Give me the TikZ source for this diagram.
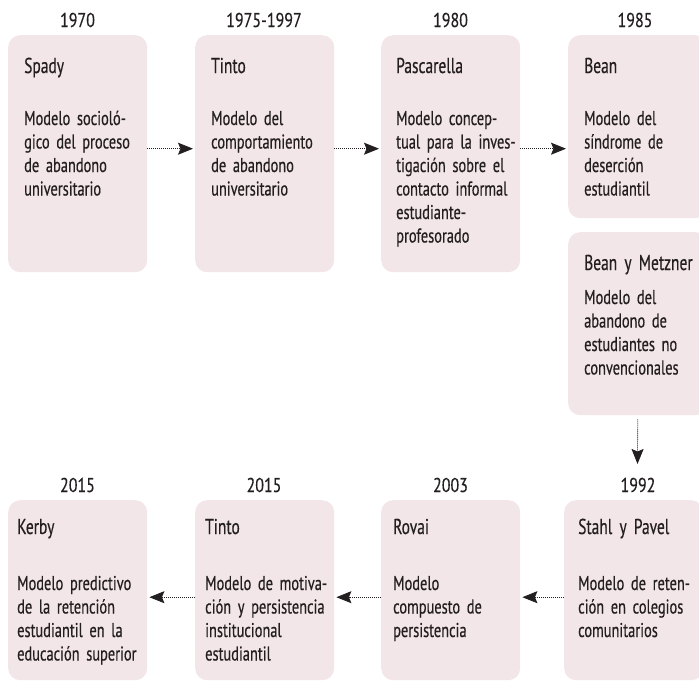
\documentclass[tikz,border=0pt]{standalone}
\usepackage{fontspec}
\setmainfont[FakeStretch=0.72,FakeBold=0.4]{PT Sans}
\newfontfamily\yearfont[FakeStretch=0.8,FakeBold=0.4]{PT Sans}
\usetikzlibrary{arrows.meta,positioning}
\definecolor{boxpink}{RGB}{242,230,232}
\definecolor{ink}{RGB}{35,31,32}
\begin{document}
\begin{tikzpicture}[x=1pt,y=-1pt,
  card/.style={draw=none,fill=boxpink,rounded corners=12pt,minimum width=139pt,inner sep=0pt,anchor=north west},
  txt/.style={inner sep=0pt,anchor=base west,align=left,text width=150pt,text=ink,font=\fontsize{20}{23.5}\selectfont},
  ttl/.style={txt,font=\fontsize{21.5}{24}\selectfont},
  yr/.style={inner sep=0pt,anchor=base,text=ink,font=\yearfont\fontsize{20}{24}\selectfont},
  link/.style={draw=ink,line width=0.8pt,dash pattern=on 1pt off 1pt,-{Stealth[length=15pt,width=12pt,inset=2.5pt]}}]
\clip (0,0) rectangle (699,681);
\fill[white] (0,0) rectangle (699,681);
% top row boxes
\node[card,minimum height=237pt] (spady) at (8,35) {};
\node[card,minimum height=237pt] (tinto) at (195,35) {};
\node[card,minimum height=237pt] (pasc) at (381,35) {};
\node[card,minimum height=183pt] (bean) at (568,35) {};
\node[card,minimum height=183pt] (bym) at (568,232) {};
% bottom row boxes
\node[card,minimum height=180pt] (kerby) at (8,500) {};
\node[card,minimum height=180pt] (tintob) at (195,500) {};
\node[card,minimum height=180pt] (rovai) at (381,500) {};
\node[card,minimum height=180pt] (stahl) at (564,500) {};
% years
\node[yr] (y1) at (77.5,27) {1970};
\node[yr] (y2) at (264,27) {1975-1997};
\node[yr] (y3) at (450.5,27) {1980};
\node[yr] (y4) at (635,27) {1985};
\node[yr] (y5) at (77.5,492) {2015};
\node[yr] (y6) at (264,492) {2015};
\node[yr] (y7) at (450.5,492) {2003};
\node[yr] (y8) at (638,492) {1992};
% titles
\node[ttl] (t1) at (24,73) {Spady};
\node[ttl] (t2) at (211,73) {Tinto};
\node[ttl] (t3) at (396,73) {Pascarella};
\node[ttl] (t4) at (584,73) {Bean};
\node[ttl] (t5) at (584,270) {Bean y Metzner};
\node[ttl] (t6) at (17,534) {Kerby};
\node[ttl] (t7) at (205,534) {Tinto};
\node[ttl] (t8) at (393,534) {Rovai};
\node[ttl] (t9) at (578,534) {Stahl y Pavel};
% descriptions
\node[txt] (d1) at (24,125) {Modelo socioló-\\gico del proceso\\de abandono\\universitario};
\node[txt] (d2) at (211,125) {Modelo del\\comportamiento\\de abandono\\universitario};
\node[txt] (d3) at (396,125) {Modelo concep-\\tual para la inves-\\tigación sobre el\\contacto informal\\estudiante-\\profesorado};
\node[txt] (d4) at (584,125) {Modelo del\\síndrome de\\deserción\\estudiantil};
\node[txt] (d5) at (584,304) {Modelo del\\abandono de\\estudiantes no\\convencionales};
\node[txt] (d6) at (17,590) {Modelo predictivo\\de la retención\\estudiantil en la\\educación superior};
\node[txt] (d7) at (205,590) {Modelo de motiva-\\ción y persistencia\\institucional\\estudiantil};
\node[txt] (d8) at (393,590) {Modelo\\compuesto de\\persistencia};
\node[txt] (d9) at (578,590) {Modelo de reten-\\ción en colegios\\comunitarios};
% connectors
\draw[link,shorten >=2pt] ([yshift=5pt]spady.east) -- ([yshift=5pt]spady.east -| tinto.west);
\draw[link,shorten >=2pt] ([yshift=5pt]tinto.east) -- ([yshift=5pt]tinto.east -| pasc.west);
\draw[link,shorten >=2pt] ([yshift=5pt]pasc.east) -- ([yshift=5pt]pasc.east -| bean.west);
\coordinate (vend) at (637.5,464);
\draw[link,shorten <=4pt] (bym.south) -- (vend);
\draw[link,shorten >=2pt] ([yshift=-7pt]stahl.west) -- ([yshift=-7pt]stahl.west -| rovai.east);
\draw[link,shorten >=2pt] ([yshift=-7pt]rovai.west) -- ([yshift=-7pt]rovai.west -| tintob.east);
\draw[link,shorten >=2pt] ([yshift=-7pt]tintob.west) -- ([yshift=-7pt]tintob.west -| kerby.east);
\end{tikzpicture}
\end{document}
